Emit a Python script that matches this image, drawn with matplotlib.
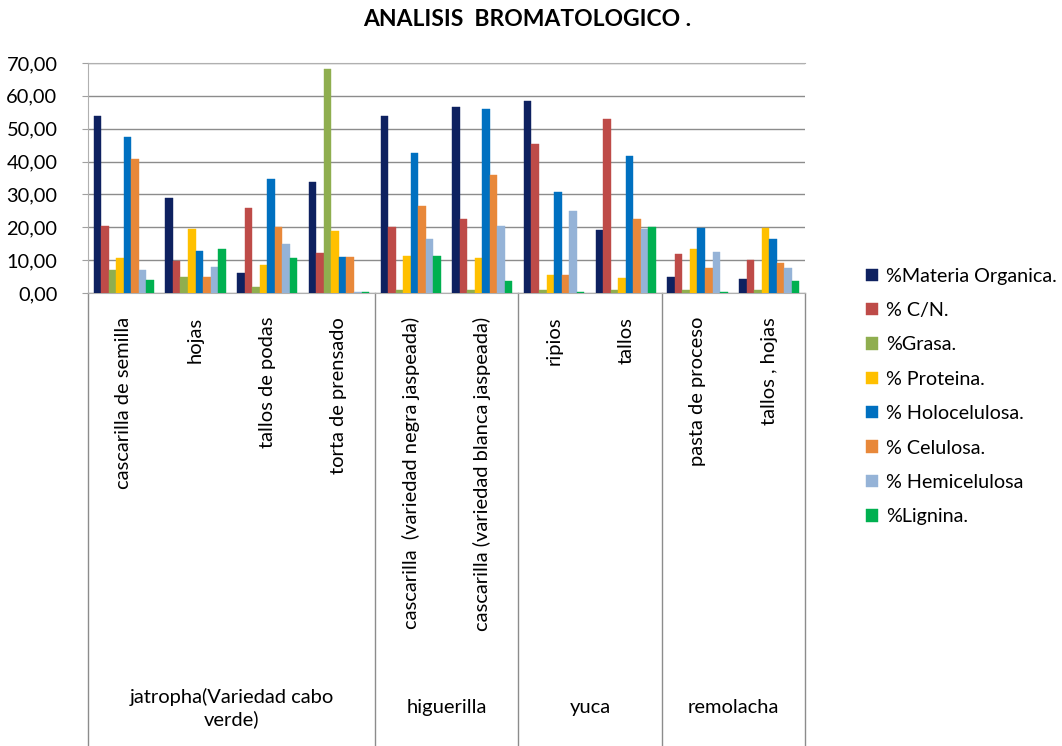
import numpy as np
import matplotlib
matplotlib.use("Agg")
import matplotlib.pyplot as plt
import matplotlib.transforms as mtrans

plt.rcParams['font.family'] = ['Lato', 'DejaVu Sans']

# categories (x axis) and the group they belong to
categories = ["cascarilla de semilla", "hojas", "tallos de podas", "torta de prensado",
              "cascarilla  (variedad negra jaspeada)", "cascarilla (variedad blanca jaspeada)",
              "ripios", "tallos",
              "pasta de proceso", "tallos , hojas"]
groups = ["jatropha(Variedad cabo\nverde)", "higuerilla", "yuca", "remolacha"]
group_sizes = [4, 2, 2, 2]

# series values
materia_organica = [54.0, 29.0, 6.2, 33.8, 54.0, 56.5, 58.5, 19.2, 4.8, 4.4]
c_n = [20.5, 9.7, 25.8, 12.1, 20.2, 22.5, 45.3, 53.0, 11.8, 10.1]
grasa = [7.0, 4.8, 1.7, 68.3, 0.8, 0.8, 0.8, 0.8, 0.8, 0.8]
proteina = [10.8, 19.4, 8.4, 18.8, 11.2, 10.7, 5.6, 4.6, 13.5, 19.8]
holocelulosa = [47.6, 12.8, 34.6, 11.0, 42.6, 56.0, 30.7, 41.7, 19.7, 16.4]
celulosa = [40.7, 4.9, 20.0, 11.0, 26.6, 36.0, 5.6, 22.5, 7.7, 9.0]
hemicelulosa = [7.0, 7.9, 14.8, 0.3, 16.3, 20.4, 25.0, 19.4, 12.5, 7.7]
lignina = [3.9, 13.4, 10.8, 0.3, 11.4, 3.6, 0.3, 20.2, 0.3, 3.6]

series_names = ["%Materia Organica.", "% C/N.", "%Grasa.", "% Proteina.",
                "% Holocelulosa.", "% Celulosa.", "% Hemicelulosa", "%Lignina."]
series = [materia_organica, c_n, grasa, proteina, holocelulosa, celulosa, hemicelulosa, lignina]
colors = ["#0E2160", "#BE4B48", "#8FAE4F", "#FFC000", "#0070C0", "#E8883A", "#95B3D7", "#00B050"]

fig = plt.figure(figsize=(10.62, 7.46), dpi=100)
ax = fig.add_axes([88 / 1062, 1 - 293 / 746, (805 - 88) / 1062, 230 / 746])

x = np.arange(len(categories))
n = len(series)
w = 0.84 / n
for i, vals in enumerate(series):
    ax.bar(x - 0.42 + w * (i + 0.5), vals, width=w, color=colors[i],
           edgecolor=colors[i], linewidth=0.3, label=series_names[i], zorder=3)

ax.set_xlim(-0.5, len(categories) - 0.5)
ax.set_ylim(0, 70)
ax.set_yticks(np.arange(0, 71, 10))
ax.set_yticklabels([f"{v:.2f}".replace(".", ",") for v in np.arange(0, 71, 10)], fontsize=14.4)
ax.yaxis.grid(True, color="#8c8c8c", linewidth=1.0, zorder=0)
ax.tick_params(axis="y", length=4, color="#a0a0a0", pad=18)
ax.tick_params(axis="x", length=0)
ax.set_xticks([])
for s in ["left", "top", "bottom"]:
    ax.spines[s].set_color("#b0b0b0")
ax.spines["right"].set_visible(False)

# category labels, rotated
tr = mtrans.blended_transform_factory(ax.transData, ax.transAxes)
for xi, lab in zip(x, categories):
    ax.text(xi, -24 / 230, lab, rotation=90, ha="center", va="top",
            fontsize=14.5, transform=tr)

# group separators and group labels
bottom = -(746 - 293) / 230
edges = np.concatenate([[0], np.cumsum(group_sizes)]) - 0.5
for e in edges:
    ax.plot([e, e], [0, bottom], color="#8c8c8c", linewidth=1.0,
            transform=tr, clip_on=False)
for g, a, b in zip(groups, edges[:-1], edges[1:]):
    ax.text((a + b) / 2, -(708 - 293) / 230, g, ha="center", va="center",
            fontsize=14.5, transform=tr, linespacing=1.3)

fig.text(527 / 1062, 1 - 19 / 746, "ANALISIS  BROMATOLOGICO .", ha="center",
         va="center", fontsize=16.5, fontweight="bold")

fig.legend(loc="upper left", bbox_to_anchor=(848 / 1062, 1 - 250 / 746),
           frameon=False, fontsize=14.2, handlelength=0.6, handleheight=0.6,
           handletextpad=0.45, labelspacing=0.88)

fig.savefig("out.png", dpi=100)
